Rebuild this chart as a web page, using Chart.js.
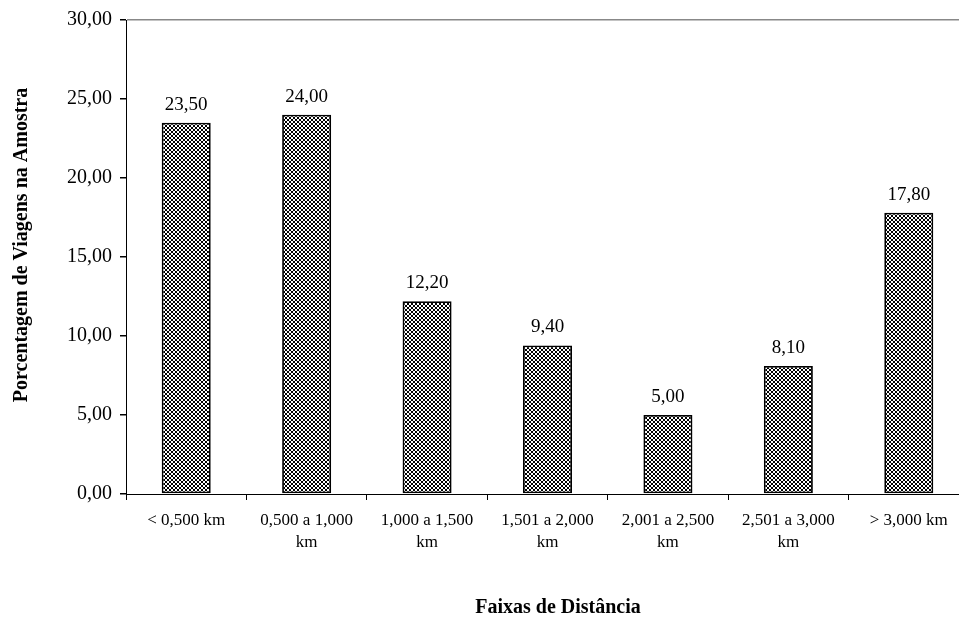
<!DOCTYPE html>
<html>
<head>
<meta charset="utf-8">
<script src="https://cdn.jsdelivr.net/npm/chart.js@4"></script>
<style>
html,body{margin:0;padding:0;overflow:hidden;background:#fff;}
#wrap{width:980px;height:621px;}
</style>
</head>
<body>
<div id="wrap"><canvas id="c" width="980" height="621"></canvas></div>
<script>
const categories = [
  ["< 0,500 km"],
  ["0,500 a 1,000", "km"],
  ["1,000 a 1,500", "km"],
  ["1,501 a 2,000", "km"],
  ["2,001 a 2,500", "km"],
  ["2,501 a 3,000", "km"],
  ["> 3,000 km"]
];
const values = [23.5, 24.0, 12.2, 9.4, 5.0, 8.1, 17.8];
const yTicks = [0, 5, 10, 15, 20, 25, 30];
const yTitle = "Porcentagem de Viagens na Amostra";
const xTitle = "Faixas de Distância";

function fmt(v){ return v.toFixed(2).replace('.', ','); }

function makePattern(){
  const t = document.createElement('canvas');
  t.width = 4; t.height = 4;
  const g = t.getContext('2d');
  g.fillStyle = '#fff'; g.fillRect(0,0,4,4);
  g.fillStyle = '#000';
  for (let y=0;y<4;y++) for (let x=0;x<4;x++){
    const d = ((x - y) % 4 + 4) % 4;
    if (d === 0 || (d === 1 && x % 2 === 0) || (d === 3 && x % 2 === 1)) g.fillRect(x,y,1,1);
  }
  return document.getElementById('c').getContext('2d').createPattern(t,'repeat');
}

const serif = "'Liberation Serif', 'Times New Roman', serif";

const labelPlugin = {
  id: 'valueLabels',
  afterDatasetsDraw(chart){
    const ctx = chart.ctx;
    const meta = chart.getDatasetMeta(0);
    ctx.save();
    ctx.font = "19px " + serif;
    ctx.fillStyle = '#000';
    ctx.textAlign = 'center';
    ctx.textBaseline = 'alphabetic';
    meta.data.forEach((bar, i) => {
      ctx.fillText(fmt(values[i]), bar.x, bar.y - 13);
    });
    ctx.restore();
  },
  afterDraw(chart){
    const ctx = chart.ctx;
    ctx.save();
    ctx.font = "bold 20px " + serif;
    ctx.fillStyle = '#000';
    ctx.textAlign = 'center';
    ctx.textBaseline = 'middle';
    ctx.fillText(xTitle, 558, 608);
    ctx.translate(22, 245);
    ctx.rotate(-Math.PI / 2);
    ctx.fillText(yTitle, 0, 0);
    ctx.restore();
  }
};

new Chart(document.getElementById('c'), {
  type: 'bar',
  data: {
    labels: categories,
    datasets: [{
      data: values,
      backgroundColor: makePattern(),
      borderColor: '#000',
      borderWidth: 1.8,
      borderSkipped: false,
      categoryPercentage: 1.0,
      barPercentage: 0.407
    }]
  },
  options: {
    responsive: false,
    animation: false,
    devicePixelRatio: 1,
    layout: { padding: { top: 17, right: 11, left: 0, bottom: 0 } },
    plugins: { legend: { display: false }, tooltip: { enabled: false } },
    scales: {
      x: {
        afterFit(s){ s.height = 127; },
        grid: { drawOnChartArea: false, tickLength: 6, color: '#000', offset: true },
        border: { color: '#000', width: 1 },
        ticks: { color: '#000', padding: 9, maxRotation: 0, autoSkip: false,
                 font: { family: serif, size: 17, lineHeight: 1.3 } }
      },
      y: {
        min: 0, max: 30,
        afterFit(s){ s.width = 126; },
        afterBuildTicks(s){ s.ticks = yTicks.map(v => ({ value: v })); },
        grid: {
          drawOnChartArea: true,
          tickLength: 6,
          tickColor: '#000',
          color: (c) => (c.tick && c.tick.value === 30) ? '#888' : 'rgba(0,0,0,0)',
          lineWidth: 1.5
        },
        border: { color: '#000', width: 1 },
        ticks: { color: '#000', padding: 8, callback: (v) => fmt(v),
                 font: { family: serif, size: 20 } }
      }
    }
  },
  plugins: [labelPlugin]
});
</script>
</body>
</html>
